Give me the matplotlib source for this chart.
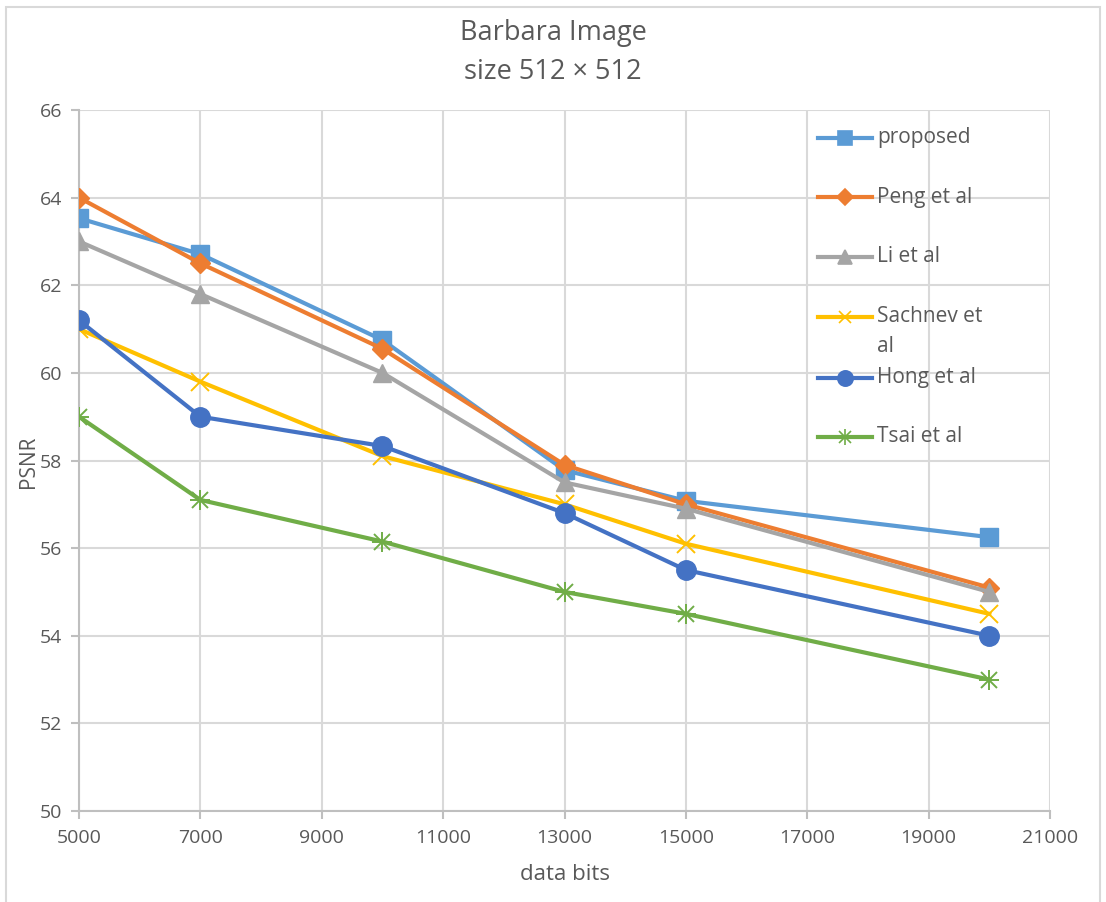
import matplotlib.pyplot as plt
from matplotlib.patches import Rectangle

plt.rcParams['font.family'] = ['Open Sans', 'DejaVu Sans']

# PSNR vs embedded data bits for the Barbara test image
data_bits = [5000, 7000, 10000, 13000, 15000, 20000]
proposed = [63.53, 62.71, 60.75, 57.78, 57.08, 56.25]
peng = [64.0, 62.5, 60.55, 57.9, 57.0, 55.1]
li = [63.0, 61.8, 60.0, 57.5, 56.9, 55.0]
sachnev = [61.0, 59.8, 58.1, 57.0, 56.1, 54.5]
hong = [61.2, 59.0, 58.33, 56.8, 55.5, 54.0]
tsai = [59.0, 57.1, 56.15, 55.0, 54.5, 53.0]

x_ticks = [5000, 7000, 9000, 11000, 13000, 15000, 17000, 19000, 21000]
y_ticks = [50, 52, 54, 56, 58, 60, 62, 64, 66]

series = [
    ("proposed", proposed, "#5B9BD5", "s", 13),
    ("Peng et al", peng, "#ED7D31", "D", 10),
    ("Li et al", li, "#A5A5A5", "^", 13),
    ("Sachnev et\nal", sachnev, "#FFC000", "x", 13),
    ("Hong et al", hong, "#4472C4", "o", 14),
    ("Tsai et al", tsai, "#70AD47", "*", 0),
]

fig = plt.figure(figsize=(11.06, 9.02), dpi=100)
ax = fig.add_axes([79 / 1106, 1 - 811 / 902, (1050 - 79) / 1106, (811 - 110) / 902])

tick_color = "#595959"
grid_color = "#D9D9D9"

for label, values, color, marker, size in series:
    if marker == "*":
        # asterisk marker drawn as a plus and a cross overlaid
        ax.plot(data_bits, values, color=color, lw=3, zorder=3)
        ax.plot(data_bits, values, ls="none", marker="+", ms=15, mew=1.4,
                color=color, zorder=4)
        ax.plot(data_bits, values, ls="none", marker="x", ms=12, mew=1.4,
                color=color, zorder=4)
    elif marker == "x":
        ax.plot(data_bits, values, color=color, lw=3, marker="x", ms=size,
                mew=1.4, zorder=3)
    else:
        ax.plot(data_bits, values, color=color, lw=3, marker=marker, ms=size,
                mec=color, mfc=color, zorder=3)

ax.set_xlim(5000, 21000)
ax.set_ylim(50, 66)
ax.set_xticks(x_ticks)
ax.set_yticks(y_ticks)
ax.grid(True, color=grid_color, lw=1.5)
ax.set_axisbelow(True)
for side in ["top", "right"]:
    ax.spines[side].set_visible(False)
for side in ["left", "bottom"]:
    ax.spines[side].set_color("#BFBFBF")
    ax.spines[side].set_linewidth(1.5)
ax.tick_params(axis="both", colors="#BFBFBF", labelcolor=tick_color,
               labelsize=14, length=6, width=1.5)
ax.tick_params(axis="x", pad=7)
ax.tick_params(axis="y", pad=6)

ax.set_xlabel("data bits", fontsize=16, color=tick_color, labelpad=12)
fig.text(28 / 1106, 1 - 462 / 902, "PSNR", rotation=90, fontsize=15,
         color=tick_color, ha="center", va="center")

fig.text(0.5, 1 - 33 / 902, "Barbara Image", fontsize=19.5, color=tick_color,
         ha="center", va="center")
fig.text(0.5, 1 - 72 / 902, "size 512 \u00d7 512", fontsize=19.5,
         color=tick_color, ha="center", va="center")

# legend entries placed by hand in the upper right of the plot
leg_y = [138, 197, 257, 317, 378, 437]
for (label, values, color, marker, size), py in zip(series, leg_y):
    yf = 1 - py / 902
    x0, x1 = 818 / 1106, 872 / 1106
    xm = (x0 + x1) / 2
    fig.add_artist(plt.Line2D([x0, x1], [yf, yf], color=color, lw=3,
                              transform=fig.transFigure))
    if marker == "*":
        for m, ms in (("+", 11), ("x", 8)):
            fig.add_artist(plt.Line2D([xm], [yf], marker=m, ms=ms, mew=1.2,
                                      color=color, transform=fig.transFigure))
    else:
        ms = {"s": 10, "D": 8, "^": 10, "x": 9, "o": 11}[marker]
        fig.add_artist(plt.Line2D([xm], [yf], marker=marker, ms=ms, mew=1.2,
                                  color=color, mfc=color,
                                  transform=fig.transFigure))
    fig.text(877 / 1106, yf, label.split("\n")[0], fontsize=15,
             color=tick_color, va="center", ha="left")
    if "\n" in label:
        fig.text(877 / 1106, 1 - (py + 29) / 902, label.split("\n")[1],
                 fontsize=15, color=tick_color, va="center", ha="left")

fig.add_artist(Rectangle((6 / 1106, -0.01), 1094 / 1106, 1 - 7 / 902 + 0.01,
                         transform=fig.transFigure, fill=False,
                         edgecolor="#D9D9D9", lw=1.5))

fig.savefig("out.png", dpi=100)
